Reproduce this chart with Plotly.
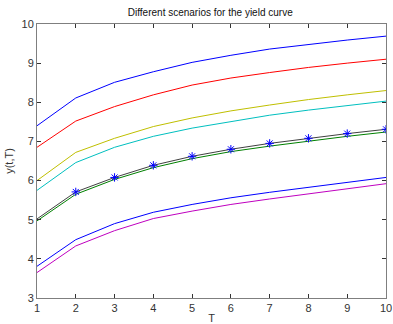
import plotly.graph_objects as go

T = [1, 2, 3, 4, 5, 6, 7, 8, 9, 10]
top_blue = [7.40, 8.11, 8.51, 8.78, 9.02, 9.20, 9.36, 9.48, 9.59, 9.69]
red = [6.85, 7.52, 7.89, 8.19, 8.44, 8.62, 8.76, 8.89, 9.00, 9.10]
yellow = [6.00, 6.72, 7.08, 7.38, 7.60, 7.78, 7.93, 8.07, 8.19, 8.30]
cyan = [5.75, 6.46, 6.85, 7.13, 7.34, 7.51, 7.67, 7.80, 7.92, 8.03]
base = [5.02, 5.71, 6.08, 6.39, 6.62, 6.80, 6.95, 7.08, 7.20, 7.31]
green = [4.97, 5.65, 6.03, 6.33, 6.56, 6.74, 6.88, 7.01, 7.13, 7.24]
low_blue = [3.81, 4.49, 4.90, 5.19, 5.39, 5.56, 5.70, 5.83, 5.96, 6.08]
magenta = [3.65, 4.33, 4.72, 5.03, 5.22, 5.39, 5.53, 5.66, 5.79, 5.92]

series = [
    (top_blue, "rgb(0,0,255)"),
    (green, "rgb(0,128,0)"),
    (red, "rgb(255,0,0)"),
    (cyan, "rgb(0,191,191)"),
    (magenta, "rgb(191,0,191)"),
    (yellow, "rgb(191,191,0)"),
    (base, "rgb(64,64,64)"),
    (low_blue, "rgb(0,0,255)"),
]

fig = go.Figure()
for ys, col in series:
    fig.add_trace(go.Scatter(x=T, y=ys, mode="lines",
                             line=dict(color=col, width=1), showlegend=False))
fig.add_trace(go.Scatter(x=T[1:], y=base[1:], mode="markers",
                         marker=dict(symbol="asterisk-open", size=7, color="rgb(0,0,255)",
                                     line=dict(color="rgb(0,0,255)", width=1)),
                         showlegend=False))

font_family = "Liberation Sans, Arial"
axis_common = dict(showgrid=False, zeroline=False, showline=True, mirror="ticks",
                   automargin=False,
                   linecolor="#7f7f7f", linewidth=1, ticks="inside", ticklen=4,
                   tickcolor="#333333", tickfont=dict(family=font_family, size=11, color="#333333"))

fig.update_layout(
    template="none",
    width=393, height=324,
    margin=dict(l=37, r=7, t=24, b=26),
    paper_bgcolor="white", plot_bgcolor="white",
    title=dict(text="Different scenarios for the yield curve", x=0.535, xanchor="center",
               y=0.962, yanchor="middle",
               font=dict(family=font_family, size=10, color="#111111")),
    xaxis=dict(range=[1, 10], dtick=1, title=dict(text="T", standoff=2,
               font=dict(family=font_family, size=11, color="#333333")), **axis_common),
    yaxis=dict(range=[3, 10], dtick=1, title=dict(text="y(t,T)", standoff=5,
               font=dict(family=font_family, size=11, color="#333333")), **axis_common),
)

# remove the page's default body margin so the figure sits at the window's top-left
fig.write_html("out.html", config={"displayModeBar": False},
               post_script="document.body.style.margin='0px';")
